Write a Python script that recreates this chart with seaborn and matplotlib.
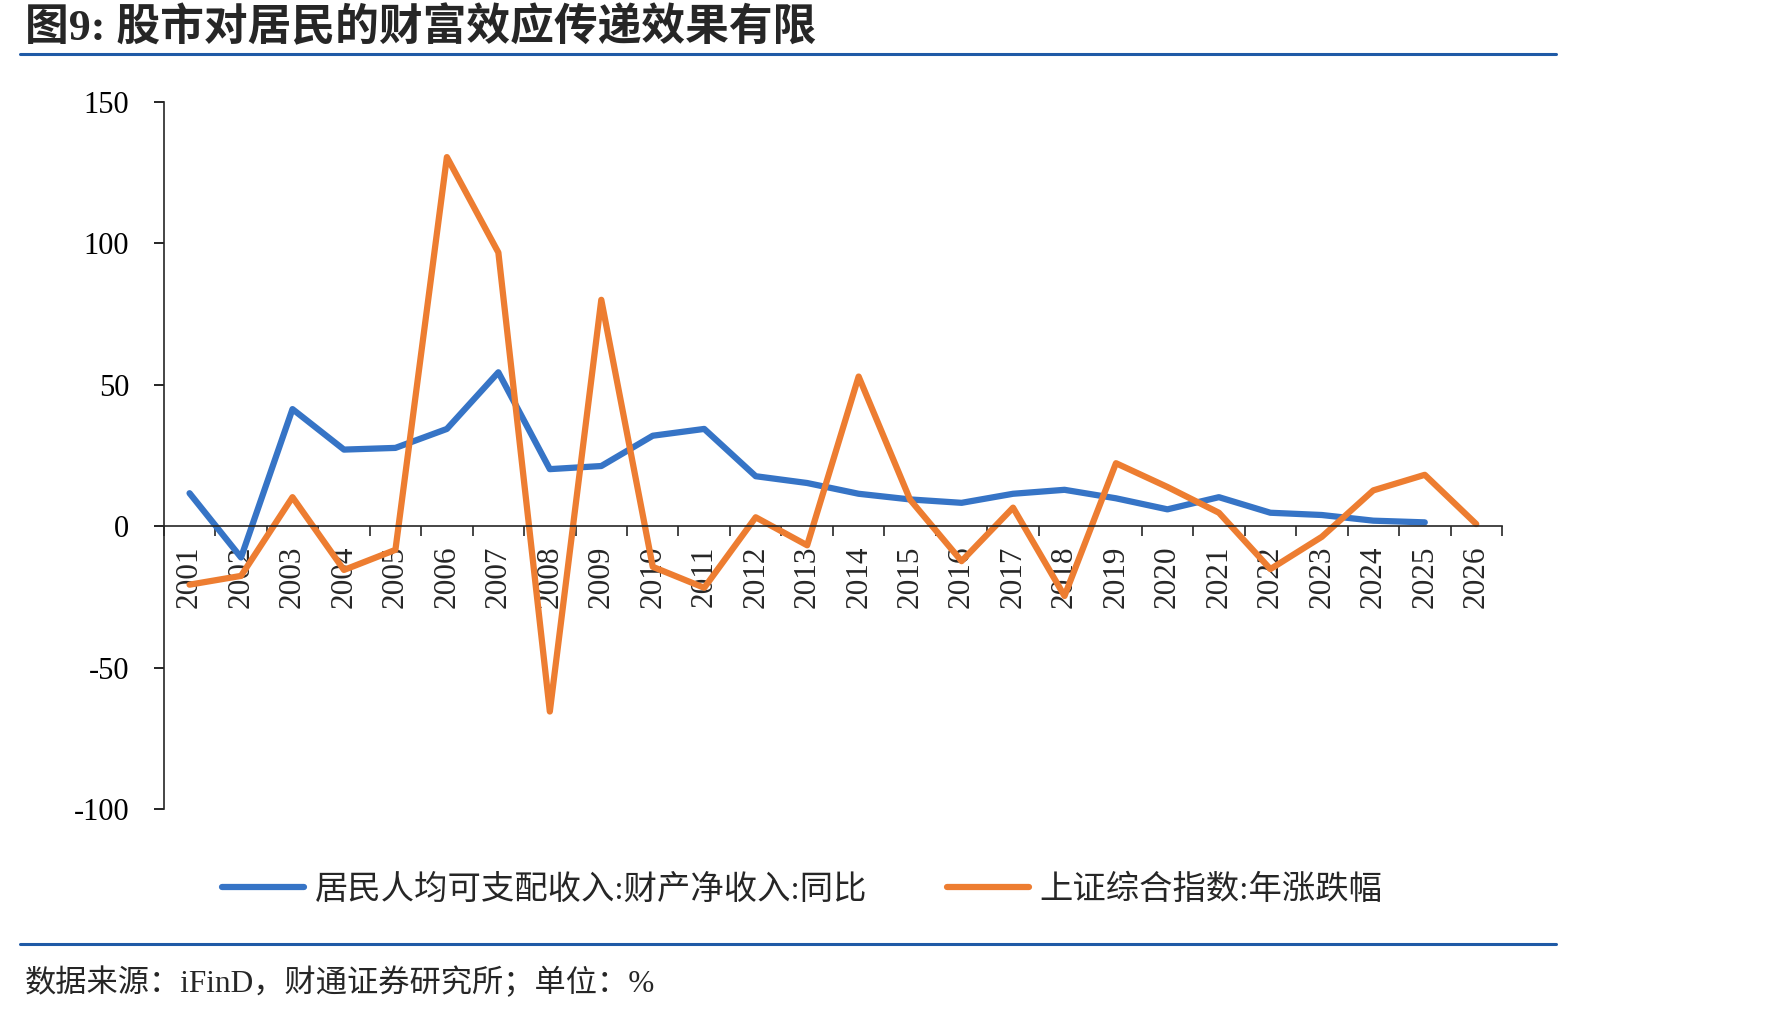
import numpy as np
import pandas as pd
import seaborn as sns
import matplotlib.pyplot as plt
from matplotlib.lines import Line2D

years = [str(y) for y in range(2001, 2027)]
# 居民人均可支配收入:财产净收入:同比 (2026 无数据)
income_yoy = [11.7, -11.0, 41.4, 27.1, 27.7, 34.4, 54.4, 20.2, 21.3, 32.0,
              34.4, 17.7, 15.3, 11.5, 9.5, 8.3, 11.5, 12.9, 9.9, 6.0,
              10.3, 4.8, 4.0, 2.0, 1.4, np.nan]
# 上证综合指数:年涨跌幅
sh_index = [-20.6, -17.5, 10.3, -15.4, -8.3, 130.4, 96.7, -65.4, 80.0, -14.3,
            -21.7, 3.2, -6.7, 52.9, 9.4, -12.3, 6.6, -24.6, 22.3, 13.9,
            4.8, -15.1, -3.7, 12.7, 18.2, 0.8]
names = ['居民人均可支配收入:财产净收入:同比', '上证综合指数:年涨跌幅']
colors = ['#3674C6', '#ED7D31']
yticks = [-100, -50, 0, 50, 100, 150]

df = pd.DataFrame({
    'x': list(range(len(years))) * 2,
    'value': income_yoy + sh_index,
    'series': [names[0]] * len(years) + [names[1]] * len(years),
})

sns.set_style("ticks")
plt.rcParams['font.family'] = ['Liberation Serif', 'Noto Sans CJK SC', 'DejaVu Sans']
plt.rcParams['axes.unicode_minus'] = False

fig = plt.figure(figsize=(17.71, 10.13), dpi=100)
ax = fig.add_axes([0.0925, 0.2009, 0.7556, 0.6988])

sns.lineplot(data=df, x='x', y='value', hue='series', palette=colors,
             linewidth=4.5, ax=ax, legend=False, sort=False)

ax.set_xlim(-0.5, len(years) - 0.5)
ax.set_ylim(-100, 150)
ax.set_yticks(yticks)
ax.set_yticklabels([str(t) for t in yticks], fontsize=22)
ax.tick_params(axis='y', direction='out', length=7, width=1.2, pad=18, colors='black')

# 横轴放在 0 处，刻度在类别之间
ax.spines['bottom'].set_position(('data', 0))
ax.spines['top'].set_visible(False)
ax.spines['right'].set_visible(False)
ax.spines['left'].set_linewidth(1.2)
ax.spines['bottom'].set_linewidth(1.2)
ax.set_xticks(range(len(years)))
ax.set_xticklabels(years, rotation=90, fontsize=22.5)
ax.set_xticks(np.arange(-0.5, len(years), 1), minor=True)
ax.tick_params(axis='x', which='major', length=0, pad=14)
ax.tick_params(axis='x', which='minor', direction='out', length=7, width=1.2)
ax.set_xlabel('')
ax.set_ylabel('')

handles = [Line2D([0], [0], color=c, lw=4.5, solid_capstyle='round') for c in colors]
fig.legend(handles, names, loc='center', bbox_to_anchor=(0.453, 0.121), ncol=2,
           frameon=False, fontsize=24, handlelength=2.45, handletextpad=0.33,
           columnspacing=2.4)

fig.text(0.014, 0.972, '图9: 股市对居民的财富效应传递效果有限', fontsize=31.5,
         fontweight='bold', va='center', ha='left')
fig.add_artist(Line2D([0.0113, 0.8786], [0.9467, 0.9467], color='#1F5AA6', lw=2.2))
fig.add_artist(Line2D([0.0113, 0.8786], [0.068, 0.068], color='#1F5AA6', lw=2.2))
fig.text(0.014, 0.0296, '数据来源：iFinD，财通证券研究所；单位：%', fontsize=22.5,
         va='center', ha='left')

fig.savefig('out.png', dpi=100)
